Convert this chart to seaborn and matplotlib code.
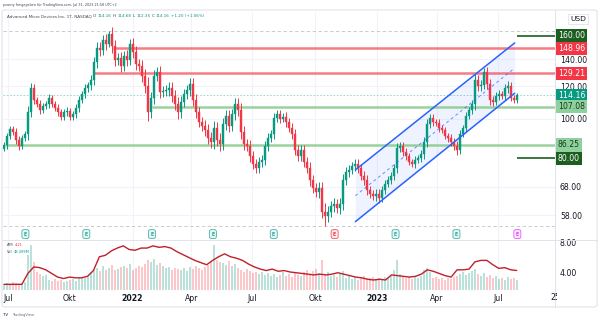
import numpy as np
import pandas as pd
import matplotlib
matplotlib.use("Agg")
import matplotlib.pyplot as plt
from matplotlib.patches import FancyBboxPatch
from matplotlib.lines import Line2D
from matplotlib.transforms import Bbox, TransformedBbox
import seaborn as sns

# ---------------- data ----------------
# closing prices, one bar every ~3 sessions (AMD, daily chart)
closes = [
    86.2, 90.7, 94.4, 92.8, 88.7, 85.8, 89.7, 91.8, 103.9, 119.0,
    111.2, 108.7, 105.1, 107.5, 108.7, 112.5, 108.7, 106.3, 103.9, 101.0,
    103.9, 104.5, 101.0, 102.8, 106.3, 111.2, 115.1, 119.0, 120.9, 124.5,
    137.8, 149.2, 147.5, 156.1, 152.6, 161.5, 150.9, 139.4, 141.0, 134.8,
    142.6, 139.4, 152.6, 145.9, 136.3, 134.8, 127.4, 120.4, 103.9, 112.5,
    127.4, 130.3, 116.4, 117.0, 117.7, 119.0, 113.8, 108.7, 103.9, 110.0,
    115.1, 117.7, 121.7, 111.2, 103.9, 98.2, 96.0, 93.9, 89.7, 87.7,
    94.9, 88.7, 86.7, 97.1, 101.6, 96.0, 102.8, 108.7, 105.1, 92.8,
    86.7, 85.8, 81.0, 77.5, 75.7, 78.3, 79.2, 85.8, 89.7, 91.8,
    100.5, 102.8, 100.0, 101.0, 98.2, 94.9, 91.8, 83.8, 81.0, 83.8,
    78.3, 75.7, 70.8, 67.6, 66.1, 67.6, 59.1, 57.7, 59.1, 61.1,
    61.8, 60.4, 61.8, 70.8, 74.0, 74.9, 76.6, 77.5, 75.7, 72.4,
    70.8, 66.9, 65.4, 64.6, 65.4, 63.9, 66.9, 69.2, 70.8, 72.4,
    75.7, 84.8, 85.8, 82.9, 81.0, 78.3, 77.5, 79.2, 80.1, 82.0,
    87.7, 97.1, 100.5, 98.2, 97.5, 94.9, 93.9, 90.7, 89.7, 87.7,
    85.8, 83.8, 91.8, 94.9, 101.6, 105.1, 108.7, 124.5, 120.4, 121.0,
    130.3, 121.7, 111.2, 110.0, 113.8, 115.1, 113.8, 119.0, 120.4, 112.5,
    111.2, 114.16,
]
first_open = 84.5

# wick reach beyond the body of each bar, percent
wick_pct = [
    1.5, 2.0, 1.8, 1.6, 2.2, 2.5, 1.8, 1.5, 3.5, 3.0,
    2.2, 1.8, 2.0, 1.6, 1.8, 2.2, 1.6, 1.8, 2.0, 1.6,
    1.8, 2.0, 1.6, 1.8, 2.2, 2.0, 1.8, 2.4, 2.0, 2.6,
    3.0, 3.2, 3.6, 2.8, 3.4, 1.8, 3.8, 3.2, 2.8, 3.6,
    3.0, 3.4, 2.8, 3.2, 3.6, 3.0, 3.4, 4.0, 5.0, 3.6,
    3.2, 3.0, 3.6, 2.8, 3.0, 3.4, 3.2, 3.6, 4.0, 3.2,
    3.0, 2.8, 3.4, 3.6, 3.2, 3.0, 2.8, 3.4, 3.6, 3.2,
    4.0, 3.4, 3.8, 3.6, 3.2, 3.4, 3.0, 3.2, 3.6, 3.8,
    3.2, 3.0, 3.4, 2.8, 3.0, 2.6, 2.8, 3.0, 2.6, 2.4,
    2.6, 2.2, 2.4, 2.0, 2.6, 2.4, 2.8, 3.0, 2.6, 2.8,
    2.6, 3.0, 3.2, 2.8, 3.0, 3.4, 3.6, 5.2, 3.2, 3.0,
    3.4, 2.8, 3.2, 3.6, 2.8, 2.6, 2.4, 2.8, 2.6, 2.4,
    2.6, 2.8, 2.4, 2.2, 2.6, 2.8, 2.4, 2.2, 2.0, 2.4,
    2.2, 3.0, 2.4, 2.0, 2.2, 1.8, 2.0, 2.2, 1.8, 2.0,
    2.6, 2.8, 2.2, 2.0, 1.8, 2.2, 2.0, 1.8, 2.0, 2.2,
    2.4, 2.6, 2.2, 2.0, 2.2, 1.8, 2.0, 3.2, 2.6, 2.8,
    2.4, 3.0, 2.6, 2.2, 2.0, 2.4, 1.8, 2.2, 2.6, 2.0,
    1.8, 1.6,
]

# average daily volume per bar, millions
volume_m = [
    29, 34, 29, 38, 34, 29, 34, 38, 168, 216,
    134, 86, 77, 67, 72, 48, 43, 53, 43, 48,
    38, 43, 48, 53, 43, 58, 62, 58, 67, 86,
    96, 106, 91, 115, 96, 106, 120, 96, 101, 110,
    115, 106, 125, 96, 106, 115, 110, 125, 144, 134,
    149, 120, 130, 115, 106, 110, 96, 106, 101, 96,
    106, 91, 110, 101, 115, 106, 96, 110, 120, 134,
    216, 144, 134, 130, 120, 139, 115, 125, 106, 96,
    86, 101, 91, 82, 86, 77, 86, 72, 82, 67,
    77, 62, 72, 86, 67, 77, 62, 82, 72, 67,
    86, 96, 77, 91, 101, 82, 144, 77, 86, 67,
    72, 62, 82, 91, 58, 67, 53, 62, 48, 58,
    67, 53, 58, 62, 48, 58, 53, 62, 58, 67,
    96, 144, 77, 67, 58, 62, 53, 62, 58, 67,
    96, 106, 86, 58, 62, 53, 58, 48, 58, 53,
    62, 67, 77, 86, 72, 82, 91, 101, 77, 67,
    82, 62, 72, 58, 67, 53, 58, 48, 62, 53,
    58, 48.5,
]

# Average True Range (14)
atr = [
    2.3, 2.3, 2.3, 2.3, 3.8, 4.7, 4.6, 4.3, 3.8, 3.3,
    3.1, 3.3, 3.2, 3.2, 3.4, 4.2, 6.1, 6.3, 6.9, 7.3,
    7.6, 7.1, 7.0, 7.3, 7.3, 7.6, 7.4, 7.5, 7.3, 6.8,
    6.4, 6.0, 5.6, 5.3, 5.0, 5.6, 6.1, 6.5, 6.1, 5.9,
    5.6, 5.1, 4.7, 4.4, 4.2, 4.4, 4.1, 4.2, 4.0, 3.9,
    3.8, 3.7, 3.6, 3.7, 3.6, 3.7, 3.9, 3.7, 3.5, 3.3,
    3.2, 3.0, 2.9, 3.0, 2.9, 3.6, 3.5, 3.4, 3.3, 3.4,
    3.7, 4.3, 4.1, 3.8, 3.5, 3.3, 4.3, 4.3, 4.4, 5.4,
    5.6, 5.6, 5.0, 4.5, 4.6, 4.3, 4.21,
]

first_day, last_day = "2021-06-25", "2023-07-31"

# drawn levels: (price, start date)
resistance = [(148.96, "2021-12-05"), (129.21, "2021-11-05")]
support = [(107.08, "2022-02-01"), (86.25, "2021-06-26")]
targets = [160.00, 80.00]
range_high, range_low = 164.46, 54.57
last_price = 114.16

# parallel channel: dates, lower line, upper line
channel_dates = ["2022-12-02", "2023-07-28"]
channel_lower = [55.9, 115.5]
channel_upper = [74.9, 153.5]

earnings_dates = ["2021-07-27", "2021-10-26", "2022-02-01", "2022-05-03", "2022-08-02",
                  "2022-11-01", "2023-01-31", "2023-05-02", "2023-08-01"]
earnings_kind = ["beat", "beat", "beat", "beat", "beat", "miss", "beat", "beat", "next"]

tick_dates = ["2021-07-01", "2021-10-01", "2022-01-03", "2022-04-01", "2022-07-01",
              "2022-10-03", "2023-01-03", "2023-04-03", "2023-07-03"]
tick_labels = ["Jul", "Okt", "2022", "Apr", "Jul", "Okt", "2023", "Apr", "Jul"]
price_ticks = [58, 68, 100, 120, 140]
atr_ticks = [4, 8]

# ---------------- style ----------------
UP, DOWN = "#089981", "#f23645"
TXT = "#131722"
GRID = "#f0f3fa"
BORDER = "#e0e3eb"

sns.set_theme(style="white")
plt.rcParams["font.family"] = ["DejaVu Sans"]

W, H = 600, 323
fig = plt.figure(figsize=(W / 100, H / 100), dpi=100)
fig.patch.set_facecolor("white")

def fx(px):
    return px / W

def fy(py):
    return 1 - py / H

LEFT, RIGHT = 3, 555
TOP, MID, BOT = 12, 240, 290

ax = fig.add_axes([fx(LEFT), fy(MID), (RIGHT - LEFT) / W, (MID - TOP) / H])
axv = fig.add_axes([fx(LEFT), fy(BOT), (RIGHT - LEFT) / W, (BOT - MID) / H], sharex=ax)
axl = fig.add_axes([fx(LEFT), fy(BOT), (RIGHT - LEFT) / W, (BOT - MID) / H], sharex=ax)
axl.patch.set_alpha(0)

dates = pd.date_range(first_day, last_day, periods=len(closes))
atr_dates = pd.date_range(first_day, last_day, periods=len(atr))
c = np.array(closes)
o = np.concatenate([[first_open], c[:-1]])
w = np.array(wick_pct) / 100
up = c >= o
cols = np.where(up, UP, DOWN)
step = (dates[1] - dates[0]) / pd.Timedelta(days=1)

x0 = pd.Timestamp("2021-06-23 12:00")
x1 = pd.Timestamp("2023-09-26 06:00")

# ---------------- main pane ----------------
ax.set_yscale("log")
ax.set_ylim(50.4, 182.8)
ax.set_xlim(x0, x1)

for d in pd.to_datetime(tick_dates):
    ax.axvline(d, color=GRID, lw=0.8, zorder=0)
    axv.axvline(d, color=GRID, lw=0.8, zorder=0)
for p in price_ticks:
    ax.axhline(p, color=GRID, lw=0.8, zorder=0)

# channel
cd = pd.to_datetime(channel_dates)
ax.fill_between(cd, channel_lower, channel_upper, color="#2962ff", alpha=0.07, lw=0, zorder=1)
sns.lineplot(x=cd, y=channel_lower, ax=ax, color="#2962ff", lw=1.1, zorder=4)
sns.lineplot(x=cd, y=channel_upper, ax=ax, color="#2962ff", lw=1.1, zorder=4)
mid = np.sqrt(np.array(channel_lower) * np.array(channel_upper))
ax.plot(cd, mid, color="#2962ff", lw=0.7, ls=(0, (3, 3)), alpha=0.7, zorder=4)

# levels
for p, s in resistance:
    ax.hlines(p, pd.Timestamp(s), x1, color="#f23645", alpha=0.65, lw=1.8, zorder=2)
for p, s in support:
    ax.hlines(p, pd.Timestamp(s), x1, color="#81c784", alpha=0.8, lw=1.8, zorder=2)
for p in targets:
    ax.hlines(p, pd.Timestamp(last_day), x1, color="#1b5e20", lw=1.2, zorder=2)
for p in (range_high, range_low):
    ax.axhline(p, color="#b2b5be", lw=0.6, ls=(0, (4, 3)), alpha=0.8, zorder=1)
ax.axhline(last_price, color=UP, lw=0.6, ls=(0, (2, 2)), alpha=0.45, zorder=1)

# candles: wicks then bodies
lo = np.minimum(o, c)
hi = np.maximum(o, c)
ax.vlines(dates, lo * (1 - w), hi * (1 + w), colors=cols, lw=0.7, zorder=3)
ax.bar(dates, hi - lo, bottom=lo, width=step * 0.62, color=cols, edgecolor=cols,
       linewidth=0.3, zorder=3)

ax.yaxis.tick_right()
ax.set_yticks(price_ticks)
ax.set_yticklabels([f"{p:.2f}" for p in price_ticks])
ax.yaxis.set_minor_locator(matplotlib.ticker.NullLocator())
ax.tick_params(axis="y", length=0, pad=3.5, labelsize=5.6, labelcolor=TXT)
ax.tick_params(axis="x", length=0, labelbottom=False)
for sp in ax.spines.values():
    sp.set_visible(False)

# value badges on the price scale
badges = [
    (160.00, "#1b5e20", "white"),
    (148.96, "#f23645", "white"),
    (129.21, "#f23645", "white"),
    (last_price, UP, "white"),
    (107.08, "#8fd19e", "#1b3a1b"),
    (86.25, "#8fd19e", "#1b3a1b"),
    (80.00, "#1b5e20", "white"),
]
for p, bg, fg in badges:
    ax.annotate(f"{p:.2f}", xy=(1, p), xycoords=("axes fraction", "data"),
                xytext=(2.0, 0), textcoords="offset points", ha="left", va="center",
                fontsize=5.6, color=fg, annotation_clip=False, zorder=10,
                bbox=dict(boxstyle="square,pad=0.28", fc=bg, ec="none"))

# earnings markers
marker_style = {"beat": ("#26a69a", "#e6f5f3"), "miss": ("#f23645", "#fde8ea"),
                "next": ("#e040fb", "#fbe7fe")}
for d, k in zip(pd.to_datetime(earnings_dates), earnings_kind):
    ec, fc = marker_style[k]
    ax.annotate("E", xy=(d, 0.026), xycoords=("data", "axes fraction"), ha="center",
                va="center", fontsize=3.4, color=ec, fontweight="bold",
                bbox=dict(boxstyle="round,pad=0.4,rounding_size=0.4", fc=fc, ec=ec, lw=0.5))

# ---------------- lower pane ----------------
axv.bar(dates, volume_m, width=step * 0.7, color=cols, alpha=0.28, lw=0)
axv.set_ylim(0, 240)
axv.set_yticks([])
axv.tick_params(axis="x", length=0, labelbottom=False)
for sp in axv.spines.values():
    sp.set_visible(False)

sns.lineplot(x=atr_dates, y=atr, ax=axl, color="#c0202a", lw=1.0)
axl.set_ylim(1.52, 8.41)
axl.yaxis.tick_right()
axl.set_yticks(atr_ticks)
axl.set_yticklabels([f"{v:.2f}" for v in atr_ticks])
axl.tick_params(axis="y", length=0, pad=3.5, labelsize=5.6, labelcolor=TXT)
axl.set_xticks(pd.to_datetime(tick_dates))
axl.set_xticklabels(tick_labels)
axl.tick_params(axis="x", length=0, pad=3.0, labelsize=5.6, labelcolor=TXT)
for lab in axl.get_xticklabels():
    if lab.get_text().isdigit():
        lab.set_fontweight("bold")
axl.set_xlabel("")
axl.set_ylabel("")
ax.set_xlabel("")
ax.set_ylabel("")
for sp in axl.spines.values():
    sp.set_visible(False)
axl.set_xlim(x0, x1)

# partially hidden next time label
t25 = fig.text(fx(555), fy(297), "25", fontsize=5.6, color=TXT, ha="center", va="center")
t25.set_clip_box(TransformedBbox(Bbox([[0, 0], [fx(557), 1]]), fig.transFigure))
t25.set_clip_on(True)

# ---------------- frame ----------------
fig.patches.append(FancyBboxPatch((fx(2), fy(307)), fx(595), (307 - 10) / H,
                                  boxstyle="round,pad=0,rounding_size=0.006",
                                  transform=fig.transFigure, fc="none", ec=BORDER, lw=0.8))
fig.lines.append(Line2D([fx(RIGHT), fx(RIGHT)], [fy(10), fy(307)], transform=fig.transFigure,
                        color=BORDER, lw=0.7))
fig.lines.append(Line2D([fx(2), fx(597)], [fy(MID), fy(MID)], transform=fig.transFigure,
                        color=BORDER, lw=0.7))

fig.text(fx(578), fy(19), "USD", fontsize=5.4, color=TXT, ha="center", va="center",
         bbox=dict(boxstyle="square,pad=0.3", fc="white", ec=BORDER, lw=0.6))

# ---------------- texts ----------------
renderer = fig.canvas.get_renderer()

def text_run(x_px, y_px, parts, size):
    x = x_px
    for s, col in parts:
        t = fig.text(fx(x), fy(y_px), s, fontsize=size, color=col, ha="left", va="center")
        x += t.get_window_extent(renderer).width + size * 0.45

text_run(3, 5, [("pvarny freigegeben für TradingView.com, Jul 31, 2023 21:58 UTC+2", "#434651")], 2.4)
text_run(7, 16, [("Advanced Micro Devices Inc, 1T, NASDAQ", "#434651"),
                 ("O", "#434651"), ("114.16", UP), ("H", "#434651"), ("114.68", UP),
                 ("L", "#434651"), ("112.35", UP), ("C", "#434651"), ("114.16", UP),
                 ("+1.20 (+1.06%)", UP)], 3.0)
text_run(7, 245, [("ATR", "#434651"), ("4.21", DOWN)], 2.6)
text_run(7, 252, [("Vol", "#434651"), ("48.499M", UP)], 2.6)
text_run(3, 315, [("TV", TXT)], 2.8)
text_run(12, 315, [("TradingView", "#6a6d78")], 2.6)

fig.savefig("out.png", dpi=100)
